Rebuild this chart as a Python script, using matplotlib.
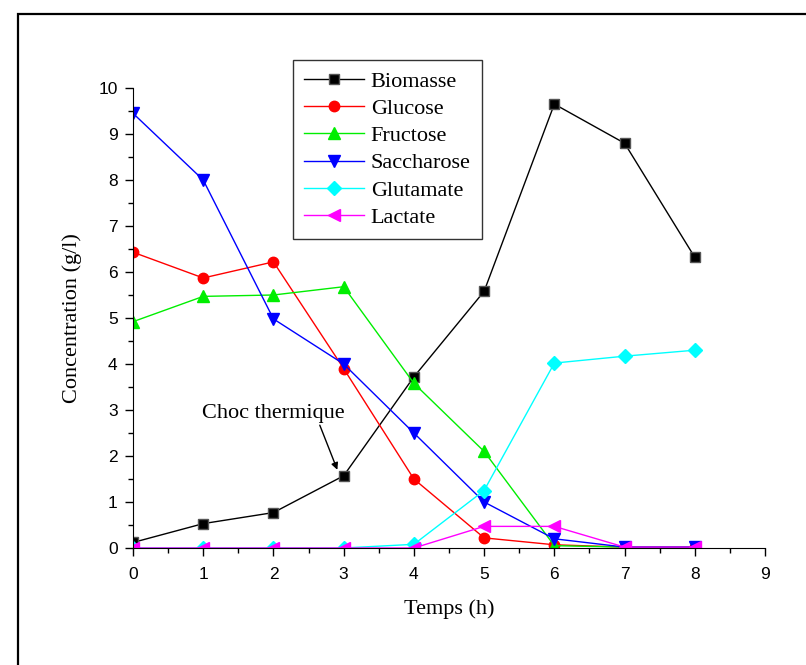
import matplotlib.pyplot as plt
from matplotlib.patches import Rectangle
from matplotlib.ticker import MultipleLocator

# Temps (h)
temps = [0, 1, 2, 3, 4, 5, 6, 7, 8]

biomasse = [0.12, 0.53, 0.77, 1.57, 3.72, 5.58, 9.65, 8.80, 6.32]
glucose = [6.43, 5.87, 6.22, 3.90, 1.50, 0.22, 0.07, 0.02, 0.02]
fructose = [4.92, 5.47, 5.50, 5.68, 3.58, 2.10, 0.05, 0.02, 0.02]
saccharose = [9.45, 8.00, 4.98, 4.00, 2.50, 1.00, 0.20, 0.02, 0.02]
glutamate = [0.0, 0.0, 0.0, 0.0, 0.08, 1.25, 4.02, 4.17, 4.30]
lactate = [0.0, 0.0, 0.0, 0.0, 0.0, 0.47, 0.47, 0.02, 0.02]

serif = 'Liberation Serif'
sans = 'Liberation Sans'

fig = plt.figure(figsize=(8.06, 6.65), dpi=100)
# outer frame of the original figure
fig.patches.append(Rectangle((18 / 806, -0.05), 1.0, 1 - 14 / 665 + 0.05,
                             transform=fig.transFigure, fill=False,
                             edgecolor='black', linewidth=1.6))

ax = fig.add_axes([133 / 806, 1 - 548 / 665, (765 - 133) / 806, (548 - 88) / 665])

series = [
    ('Biomasse', biomasse, 'black', 's', 7),
    ('Glucose', glucose, 'red', 'o', 7.5),
    ('Fructose', fructose, '#00ee00', '^', 9),
    ('Saccharose', saccharose, 'blue', 'v', 9),
    ('Glutamate', glutamate, 'cyan', 'D', 7.5),
    ('Lactate', lactate, 'magenta', '<', 9),
]

for name, vals, col, mk, ms in series:
    ax.plot(temps, vals, color=col, marker=mk, markersize=ms, linewidth=1.0,
            markeredgecolor=col if mk != 's' else '#555555', markeredgewidth=1.0,
            label=name)

ax.set_xlim(0, 9)
ax.set_ylim(0, 10)
ax.xaxis.set_major_locator(MultipleLocator(1))
ax.xaxis.set_minor_locator(MultipleLocator(0.5))
ax.yaxis.set_major_locator(MultipleLocator(1))
ax.yaxis.set_minor_locator(MultipleLocator(0.5))
ax.tick_params(which='major', direction='out', length=6, width=1.0, pad=5)
ax.tick_params(axis='x', which='major', pad=8)
ax.tick_params(which='minor', direction='out', length=3.5, width=1.0)
for lbl in ax.get_xticklabels() + ax.get_yticklabels():
    lbl.set_fontfamily(sans)
    lbl.set_fontsize(12.5)
ax.spines['top'].set_visible(False)
ax.spines['right'].set_visible(False)

ax.set_xlabel('Temps (h)', fontfamily=serif, fontsize=16, labelpad=12)
ax.set_ylabel('Concentration (g/l)', fontfamily=serif, fontsize=16, labelpad=12)

ax.text(0.98, 2.93, 'Choc thermique', fontfamily=serif, fontsize=16,
        ha='left', va='center')
ax.annotate('', xy=(2.91, 1.70), xytext=(2.66, 2.67),
            arrowprops=dict(arrowstyle='-|>', color='black', lw=1.0,
                            shrinkA=0, shrinkB=0, mutation_scale=10))

leg = ax.legend(loc='upper left', bbox_to_anchor=((293 - 133) / 632, 1 + (88 - 60) / 460),
                borderaxespad=0, prop={'family': serif, 'size': 16}, frameon=True,
                fancybox=False, edgecolor='black', handlelength=2.7, labelspacing=0.3,
                borderpad=0.5, handletextpad=0.3)
leg.get_frame().set_linewidth(1.0)

fig.savefig('out.png', dpi=100)
